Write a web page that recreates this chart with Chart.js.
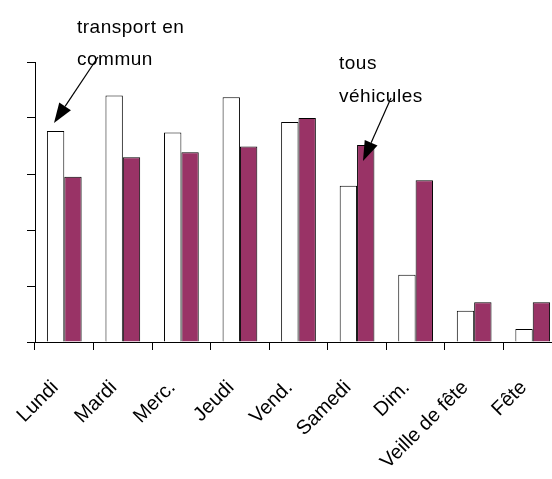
<!DOCTYPE html>
<html>
<head>
<meta charset="utf-8">
<script src="https://cdn.jsdelivr.net/npm/chart.js@4"></script>
<style>
  html, body { margin: 0; padding: 0; background: #fff; overflow: hidden; }
  #wrap { width: 600px; height: 479px; }
</style>
</head>
<body>
<div id="wrap"><canvas id="trafficChart" width="600" height="479"></canvas></div>
<script>
const days = ['Lundi', 'Mardi', 'Merc.', 'Jeudi', 'Vend.', 'Samedi', 'Dim.', 'Veille de fête', 'Fête'];
const transportCommun = [3.77, 4.40, 3.74, 4.37, 3.93, 2.79, 1.20, 0.56, 0.23];
const tousVehicules = [2.95, 3.30, 3.39, 3.49, 4.00, 3.52, 2.89, 0.71, 0.71];
const yTicks = [0, 1, 2, 3, 4, 5];

// arrows + the two callout texts
const calloutPlugin = {
  id: 'callouts',
  afterDraw: chart => {
    const ctx = chart.ctx;
    ctx.save();
    ctx.fillStyle = '#000';
    ctx.strokeStyle = '#000';
    ctx.font = '19px "Liberation Sans", Arial, sans-serif';
    ctx.letterSpacing = '0.5px';
    ctx.textAlign = 'left';
    ctx.textBaseline = 'alphabetic';
    ctx.fillText('transport en', 77, 33);
    ctx.fillText('commun', 77, 65);
    ctx.fillText('tous', 339, 69);
    ctx.fillText('véhicules', 339, 102);

    const arrow = (x1, y1, x2, y2) => {
      const ang = Math.atan2(y2 - y1, x2 - x1);
      const len = 20, half = 7;
      const bx = x2 - len * Math.cos(ang), by = y2 - len * Math.sin(ang);
      ctx.lineWidth = 1.2;
      ctx.beginPath();
      ctx.moveTo(x1, y1);
      ctx.lineTo(bx, by);
      ctx.stroke();
      ctx.beginPath();
      ctx.moveTo(x2, y2);
      ctx.lineTo(bx + half * Math.sin(ang), by - half * Math.cos(ang));
      ctx.lineTo(bx - half * Math.sin(ang), by + half * Math.cos(ang));
      ctx.closePath();
      ctx.fill();
    };
    arrow(98, 57, 54, 123);
    arrow(391, 98, 363, 161);
    ctx.restore();
  }
};

new Chart(document.getElementById('trafficChart').getContext('2d'), {
  type: 'bar',
  data: {
    labels: days,
    datasets: [
      {
        label: 'transport en commun',
        data: transportCommun,
        backgroundColor: '#ffffff',
        borderColor: '#000000',
        borderWidth: 1,
        barPercentage: 1,
        categoryPercentage: 0.593,
      },
      {
        label: 'tous véhicules',
        data: tousVehicules,
        backgroundColor: '#993366',
        borderColor: '#000000',
        borderWidth: 1,
        barPercentage: 1,
        categoryPercentage: 0.593,
      },
    ],
  },
  options: {
    responsive: false,
    animation: false,
    layout: { padding: { top: 62, right: 38, left: 0, bottom: 0 } },
    plugins: {
      legend: { display: false },
      tooltip: { enabled: false },
    },
    scales: {
      x: {
        grid: {
          offset: true,
          drawOnChartArea: false,
          drawTicks: true,
          tickLength: 8,
          color: '#000',
        },
        border: { color: '#000', width: 1 },
        ticks: {
          color: '#000',
          font: { family: '"Liberation Sans", Arial, sans-serif', size: 20 },
          minRotation: 45,
          maxRotation: 45,
          autoSkip: false,
          padding: 26,
          labelOffset: -9,
        },
        afterFit: scale => { scale.height = 137; },
      },
      y: {
        min: yTicks[0],
        max: yTicks[yTicks.length - 1],
        afterBuildTicks: scale => { scale.ticks = yTicks.map(v => ({ value: v })); },
        grid: {
          drawOnChartArea: false,
          drawTicks: true,
          tickLength: 8,
          color: '#000',
        },
        border: { color: '#000', width: 1 },
        ticks: { display: false },
        afterFit: scale => { scale.width = 35; },
      },
    },
  },
  plugins: [calloutPlugin],
});
</script>
</body>
</html>
